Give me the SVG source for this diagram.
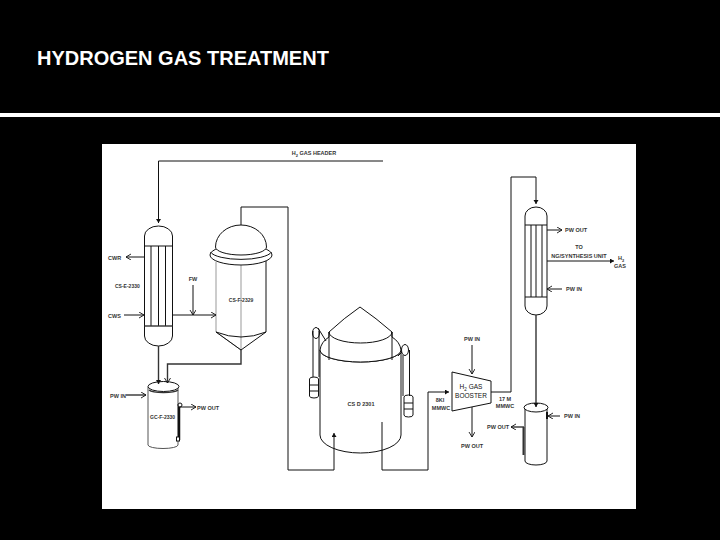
<svg xmlns="http://www.w3.org/2000/svg" width="720" height="540" viewBox="0 0 720 540">
<defs>
<marker id="a" markerWidth="7" markerHeight="7" refX="5" refY="3" orient="auto" markerUnits="userSpaceOnUse"><path d="M0 0L5 3L0 6" fill="none" stroke="#111" stroke-width="0.9"/></marker>
<marker id="f" markerWidth="6" markerHeight="6" refX="4" refY="2.5" orient="auto" markerUnits="userSpaceOnUse"><path d="M0 0L4 2.5L0 5z" fill="#111"/></marker>
</defs>
<style>
.l{fill:none;stroke:#111;stroke-width:1}
.h{fill:none;stroke:#333;stroke-width:1.4}
.v{fill:#fff;stroke:#111;stroke-width:1}
.t{font-family:"Liberation Sans",Arial,sans-serif;font-size:5.5px;font-weight:bold;fill:#333}
.s{font-size:5px}
.b{font-size:6.5px;font-weight:normal;fill:#111}
.m{text-anchor:middle}
</style>
<rect width="720" height="540" fill="#000"/>
<rect x="0" y="113" width="720" height="4" fill="#fff"/>
<text x="37" y="64.500" font-family="'Liberation Sans',Arial,sans-serif" font-size="20" font-weight="bold" fill="#fff">HYDROGEN GAS TREATMENT</text>
<rect x="102" y="144" width="534" height="365" fill="#fff"/>
<g id="exchanger-1">
<path class="v" d="M144.500 236A14 10 0 0 1 172.500 236V336A14 10 0 0 1 144.500 336Z"/>
<path class="l" d="M144.500 246H172.500M151 246V326M158.500 246V326M165.500 246V326"/>
<path class="h" d="M144.500 326H172.500"/>
<text class="t" x="108" y="260">CWR</text><text class="t" x="108" y="318">CWS</text><text class="t s" x="115" y="288">CS-E-2330</text>
</g>
<g id="reactor">
<path d="M216 262V332L241 350V262" fill="#fff" stroke="#999"/>
<path class="l" d="M266 258V332L241 350L216 332"/>
<path class="l" d="M216 332Q241 342 266 332"/>
<ellipse class="v" cx="241" cy="255" rx="31" ry="10"/>
<path class="l" d="M210.500 252A31 9 0 0 0 271.500 252"/>
<path class="v" d="M215.500 247A25.500 22 0 0 1 266.500 247A25.500 8 0 0 1 215.500 247Z"/>
<text class="t s m" x="241" y="302">CS-F-2329</text><text class="t m" x="193" y="281">FW</text>
</g>
<g id="drum-1">
<path d="M148 387V445A15 3.500 0 0 0 178 445V387" fill="#fff" stroke="#555"/>
<ellipse class="v" cx="163.500" cy="386.500" rx="15.500" ry="5"/>
<path class="h" d="M149 390A15 3.500 0 0 0 178 390"/>
<path d="M179 404V440" stroke="#111" stroke-width="2.500"/>
<circle class="v" cx="180" cy="405" r="2"/><rect class="v" x="176.500" y="437" width="3" height="4"/>
<text class="t" x="110" y="398">PW IN</text><text class="t" x="197" y="410">PW OUT</text><text class="t s" x="150" y="419">GC-F-2330</text>
</g>
<g id="tank">
<path class="v" d="M320 350V435A40.500 18 0 0 0 401 435V350A40.500 12 0 0 1 320 350Z"/>
<path class="v" d="M320 350A40.500 12 0 0 0 401 350Q400 342 392 337V332Q376 318 360 307Q344 318 329 332V337Q321 342 320 350Z"/>
<path class="l" d="M329 332A31.500 11 0 0 0 392 332M329 332V360M392 332V360"/>
<ellipse class="l" cx="316" cy="333" rx="3.500" ry="5.500"/><path class="l" d="M313 331V377M319 331V377M318 328L326 341"/>
<path class="l" d="M309.500 379A4.500 2 0 0 1 318.500 379V396A4.500 2 0 0 1 309.500 396ZM309.500 385H318.500M309.500 391H318.500"/>
<ellipse class="l" cx="405" cy="350" rx="3.500" ry="5.500"/><path class="l" d="M402 352L398 356M409.500 350V396M403 355V396"/>
<path class="l" d="M404 397A4.500 2 0 0 1 413 397V415A4.500 2 0 0 1 404 415ZM404 403H413M404 409H413"/>
<text class="t m" x="361" y="406">CS D 2301</text>
</g>
<g id="booster">
<path class="v" d="M452 372L491 381V403L452 411Z"/>
<text class="t b m" x="471" y="389">H<tspan style="font-size:4.500px" dy="2">2</tspan><tspan dy="-2"> GAS</tspan></text>
<text class="t b m" x="471" y="397.500">BOOSTER</text>
<text class="t m" x="472" y="341">PW IN</text><text class="t m" x="472" y="448">PW OUT</text>
<text class="t m" x="440" y="402">8KI</text><text class="t m" x="441" y="410">MMWC</text>
<text class="t m" x="505" y="401">17 M</text><text class="t m" x="505" y="408">MMWC</text>
</g>
<g id="exchanger-2">
<path class="v" d="M525 216A11 9 0 0 1 547 216V306A11 9 0 0 1 525 306Z"/>
<path class="l" d="M525 225H547M531 225V297M536 225V297M542 225V297M525 297H547"/>
<text class="t" x="565" y="232">PW OUT</text>
<text class="t m" x="579" y="249">TO</text><text class="t m" x="579" y="258">NG/SYNTHESIS UNIT</text>
<text class="t m" x="621" y="260">H<tspan style="font-size:4px" dy="2">2</tspan></text><text class="t m" x="620" y="268">GAS</text>
<text class="t" x="566" y="291">PW IN</text>
</g>
<g id="drum-2">
<path class="v" d="M525 407V461A11 4 0 0 0 547 461V407"/>
<ellipse class="v" cx="536" cy="407.500" rx="12" ry="4.500"/>
<path d="M523.500 427V455" stroke="#333" stroke-width="2"/>
<path d="M547 412V419" stroke="#111" stroke-width="2"/>
<text class="t" x="564" y="418">PW IN</text><text class="t" x="487" y="429">PW OUT</text>
</g>
<text class="t m" x="314" y="155">H<tspan style="font-size:4px" dy="2">2</tspan><tspan dy="-2"> GAS HEADER</tspan></text>
<g id="connectors">
<path class="l" d="M383 161H158.500V223" marker-end="url(#f)"/>
<path class="l" d="M241 225V207H288V470H334V433" marker-end="url(#f)"/>
<path class="l" d="M382 422V470H428V392H449" marker-end="url(#f)"/>
<path class="l" d="M491 392H511V177H536V204" marker-end="url(#f)"/>
<path class="h" d="M158.500 346V384" marker-end="url(#f)"/>
<path class="h" d="M241 350V364H167.500V383" marker-end="url(#a)"/>
<path class="h" d="M536 315V407" marker-end="url(#f)"/>
<path class="l" d="M144 257H126" marker-end="url(#a)"/>
<path class="l" d="M124 315H144" marker-end="url(#a)"/>
<path class="l" d="M172 315H216" marker-end="url(#a)"/>
<path class="l" d="M193 285V315" marker-end="url(#a)"/>
<path class="h" d="M126 395H146" marker-end="url(#a)"/>
<path class="l" d="M180 407H196" marker-end="url(#a)"/>
<path class="l" d="M472 345V374" marker-end="url(#a)"/>
<path class="l" d="M472 407V437" marker-end="url(#a)"/>
<path class="l" d="M547 230H562" marker-end="url(#a)"/>
<path class="l" d="M547 261H614" marker-end="url(#f)"/>
<path class="l" d="M562 289H547" marker-end="url(#a)"/>
<path class="l" d="M560 416H548" marker-end="url(#a)"/>
<path class="h" d="M524 427H511" marker-end="url(#a)"/>
</g>
</svg>
